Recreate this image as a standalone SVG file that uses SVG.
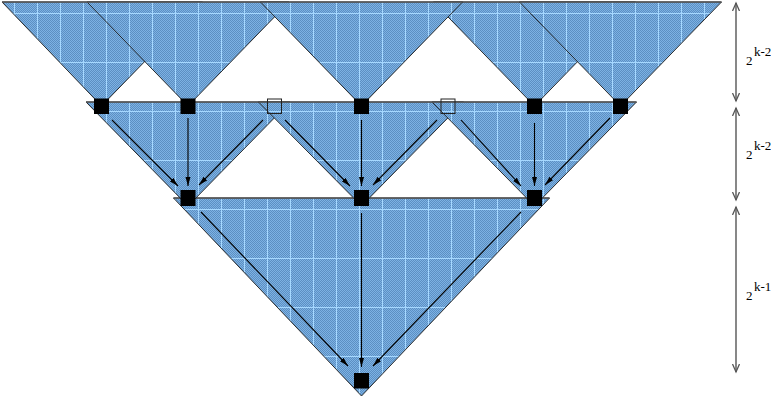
<svg xmlns="http://www.w3.org/2000/svg" width="771" height="401" viewBox="0 0 771 401">
<style>
.tri{fill:url(#grid);stroke:#1a1a1a;stroke-width:0.9}
.top{stroke:#5a5a5a;stroke-width:1.6}
.node{fill:#000}
.open{fill:none;stroke:#222;stroke-width:1}
.arr{stroke:#000;stroke-width:1.1;fill:none;marker-end:url(#ah)}
.dim{stroke:#555;stroke-width:1.4;fill:none;marker-start:url(#dh);marker-end:url(#dh)}
.lbl{font-family:"Liberation Serif","Times New Roman",serif;font-size:13px;fill:#000}
</style>
<defs>
<pattern id="chk" patternUnits="userSpaceOnUse" width="2" height="2">
<rect width="2" height="2" fill="#5c8fc2"/>
<rect width="1" height="1" fill="#7db2e4"/>
<rect x="1" y="1" width="1" height="1" fill="#7db2e4"/>
</pattern>
<pattern id="grid" patternUnits="userSpaceOnUse" x="14" y="13" width="46" height="49">
<rect width="46" height="49" fill="url(#chk)"/>
<rect x="0" y="0" width="1" height="49" fill="#a6d8ff"/>
<rect x="23" y="0" width="1" height="49" fill="#a6d8ff"/>
<rect x="0" y="0" width="46" height="1" fill="#a6d8ff"/>
</pattern>
<marker id="ah" markerUnits="userSpaceOnUse" markerWidth="10" markerHeight="6" refX="9" refY="2.5" orient="auto">
<path d="M0,0 L9,2.5 L0,5 z" fill="#000"/>
</marker>
<marker id="dh" markerUnits="userSpaceOnUse" markerWidth="10" markerHeight="10" refX="8" refY="4" orient="auto-start-reverse">
<path d="M0,0.5 L8,4 L0,7.5" fill="none" stroke="#555" stroke-width="1.3"/>
</marker>
</defs>

<g id="bottom-triangle">
<polygon class="tri" points="173.5,198 549.5,198 361.5,396"/>
<line class="top" x1="173.5" y1="198" x2="549.5" y2="198"/>
</g>
<g id="mid-triangle-1">
<polygon class="tri" points="86,102 290,102 188,206"/>
<line class="top" x1="86" y1="102" x2="290" y2="102"/>
</g>
<g id="mid-triangle-2">
<polygon class="tri" points="258.5,102 463.5,102 361.5,206"/>
<line class="top" x1="258.5" y1="102" x2="463.5" y2="102"/>
</g>
<g id="mid-triangle-3">
<polygon class="tri" points="432,102 636.5,102 534.5,206"/>
<line class="top" x1="432" y1="102" x2="636.5" y2="102"/>
</g>
<g id="top-triangle-1">
<polygon class="tri" points="2,2 202.5,2 101.5,106"/>
<line class="top" x1="2" y1="2" x2="202.5" y2="2"/>
</g>
<g id="top-triangle-2">
<polygon class="tri" points="87,2 289,2 188,106"/>
<line class="top" x1="87" y1="2" x2="289" y2="2"/>
</g>
<g id="top-triangle-4">
<polygon class="tri" points="433.5,2 635.5,2 534.5,106"/>
<line class="top" x1="433.5" y1="2" x2="635.5" y2="2"/>
</g>
<g id="top-triangle-5">
<polygon class="tri" points="519.5,2 721.5,2 620.5,106"/>
<line class="top" x1="519.5" y1="2" x2="721.5" y2="2"/>
</g>
<g id="top-triangle-3">
<polygon class="tri" points="260.5,2 462.5,2 361.5,106"/>
<line class="top" x1="260.5" y1="2" x2="462.5" y2="2"/>
</g>

<g id="connectors">
<line class="arr" x1="112" y1="120" x2="178" y2="186"/>
<line class="arr" x1="188" y1="118" x2="188" y2="186"/>
<line class="arr" x1="263" y1="120" x2="199" y2="185"/>
<line class="arr" x1="285" y1="120" x2="350" y2="186"/>
<line class="arr" x1="361.5" y1="120" x2="361.5" y2="186"/>
<line class="arr" x1="437" y1="120" x2="373" y2="185"/>
<line class="arr" x1="461" y1="120" x2="521" y2="186"/>
<line class="arr" x1="534.5" y1="123" x2="534.5" y2="186"/>
<line class="arr" x1="610" y1="118" x2="545" y2="185"/>
<line class="arr" x1="201" y1="212" x2="348" y2="366"/>
<line class="arr" x1="361.5" y1="213" x2="361.5" y2="367"/>
<line class="arr" x1="521" y1="212" x2="373" y2="366"/>
</g>

<g id="node-r2-1"><rect class="node" x="94" y="98.5" width="15" height="15.5"/></g>
<g id="node-r2-2"><rect class="node" x="180.5" y="98.5" width="15" height="15.5"/></g>
<g id="node-r2-3"><rect class="open" x="267.5" y="99" width="14" height="14.5"/></g>
<g id="node-r2-4"><rect class="node" x="354" y="98.5" width="15" height="15.5"/></g>
<g id="node-r2-5"><rect class="open" x="441" y="99" width="14" height="14.5"/></g>
<g id="node-r2-6"><rect class="node" x="527" y="98.5" width="15" height="15.5"/></g>
<g id="node-r2-7"><rect class="node" x="613" y="98.5" width="15" height="15.5"/></g>
<g id="node-r3-1"><rect class="node" x="180.5" y="190" width="15" height="16"/></g>
<g id="node-r3-2"><rect class="node" x="354" y="190" width="15" height="16"/></g>
<g id="node-r3-3"><rect class="node" x="527" y="190" width="15" height="16"/></g>
<g id="node-r4-1"><rect class="node" x="354" y="373" width="15" height="15.5"/></g>

<g id="dimensions">
<line class="dim" x1="736" y1="3" x2="736" y2="101"/>
<line class="dim" x1="736" y1="108" x2="736" y2="200"/>
<line class="dim" x1="736" y1="207" x2="736" y2="372"/>
<text class="lbl" x="746" y="64.5">2</text>
<text class="lbl" x="754" y="55.5">k-2</text>
<text class="lbl" x="746" y="158.5">2</text>
<text class="lbl" x="754" y="149.5">k-2</text>
<text class="lbl" x="746" y="300">2</text>
<text class="lbl" x="754" y="291">k-1</text>
</g>
</svg>
